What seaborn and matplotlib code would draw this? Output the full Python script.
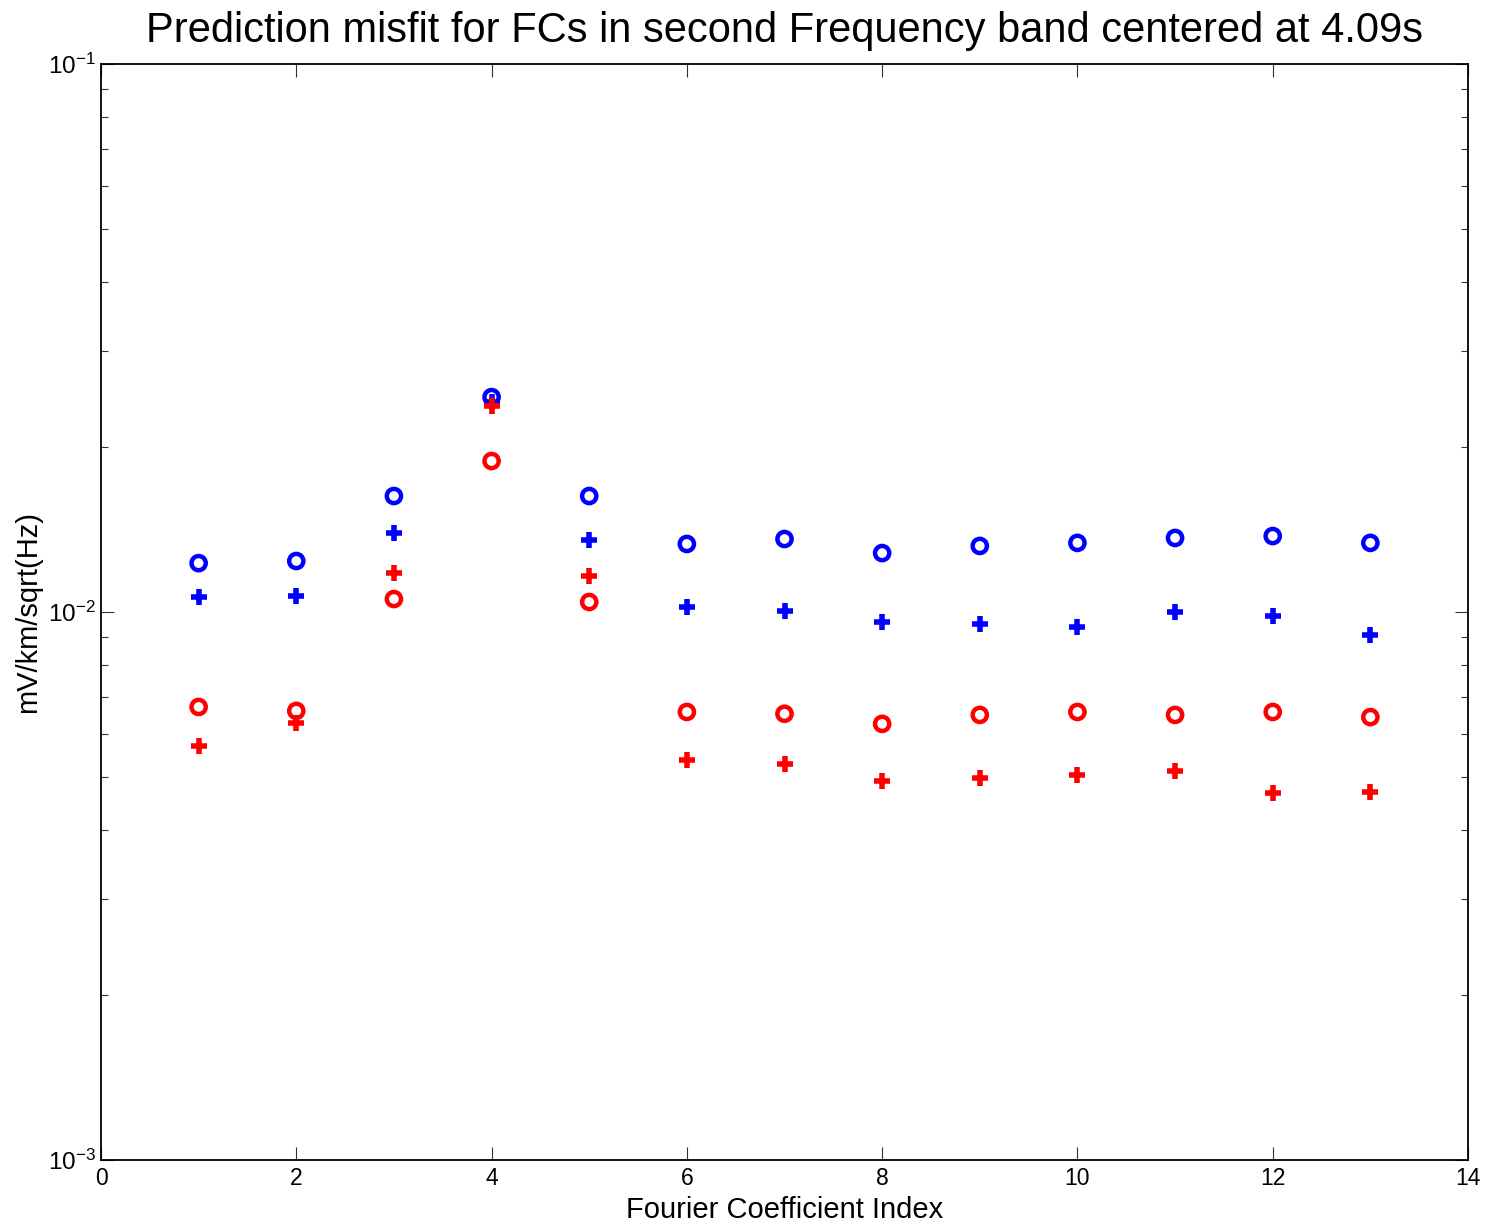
import numpy as np
import pandas as pd
import matplotlib
matplotlib.use("Agg")
import matplotlib.pyplot as plt
import seaborn as sns
from matplotlib.ticker import LogLocator, MultipleLocator, NullFormatter

# ---- data ----
fc_index = [1, 2, 3, 4, 5, 6, 7, 8, 9, 10, 11, 12, 13]
blue_circle = [0.01228, 0.01239, 0.01628, 0.02467, 0.01628, 0.01331, 0.01359,
               0.01281, 0.01320, 0.01337, 0.01365, 0.01376, 0.01337]
blue_plus = [0.01065, 0.01069, 0.01394, 0.02416, 0.01353, 0.01021, 0.01004,
             0.00959, 0.00951, 0.00939, 0.01000, 0.00983, 0.00908]
red_circle = [0.00671, 0.00660, 0.01056, 0.01886, 0.01043, 0.00657, 0.00652,
              0.00625, 0.00649, 0.00657, 0.00649, 0.00657, 0.00643]
red_plus = [0.00569, 0.00627, 0.01178, 0.02376, 0.01163, 0.00537, 0.00528,
            0.00491, 0.00498, 0.00504, 0.00513, 0.00467, 0.00469]

title = "Prediction misfit for FCs in second Frequency band centered at 4.09s"
xlabel = "Fourier Coefficient Index"
ylabel = "mV/km/sqrt(Hz)"

sns.set_theme(style="white")
plt.rcParams['font.family'] = ['Liberation Sans', 'DejaVu Sans']
plt.rcParams['mathtext.fontset'] = 'custom'
plt.rcParams['mathtext.rm'] = 'Liberation Sans'
plt.rcParams['mathtext.it'] = 'Liberation Sans'

fig = plt.figure(figsize=(14.87, 12.28), dpi=100)
ax = fig.add_axes([101/1487, 1 - 1160/1228, (1468-101)/1487, (1160-64)/1228])

df = pd.DataFrame({"idx": fc_index, "bc": blue_circle, "bp": blue_plus,
                   "rc": red_circle, "rp": red_plus})

circ_kw = dict(marker='o', s=105, facecolor='none', linewidth=3.2, zorder=3)
plus_kw = dict(marker='+', s=135, linewidth=4.0, zorder=3)

sns.scatterplot(data=df, x="idx", y="bc", ax=ax, edgecolor='#0000ff', **circ_kw)
sns.scatterplot(data=df, x="idx", y="bp", ax=ax, color='#0000ff', **plus_kw)
sns.scatterplot(data=df, x="idx", y="rc", ax=ax, edgecolor='#ff0000', **circ_kw)
sns.scatterplot(data=df, x="idx", y="rp", ax=ax, color='#ff0000', **plus_kw)

ax.set_yscale('log')
ax.set_xlim(0, 14)
ax.set_ylim(1e-3, 1e-1)
ax.xaxis.set_major_locator(MultipleLocator(2))
ax.yaxis.set_major_locator(LogLocator(base=10, numticks=10))
ax.yaxis.set_minor_locator(LogLocator(base=10, subs=np.arange(2, 10), numticks=20))
ax.yaxis.set_minor_formatter(NullFormatter())

ax.tick_params(which='both', direction='in', top=True, right=True,
               bottom=True, left=True, colors='black')
ax.tick_params(which='major', length=9.5, width=0.8, color='#333333')
ax.tick_params(which='minor', length=5, width=0.8, color='#333333')
ax.tick_params(axis='x', pad=5, labelsize=16.5)
ax.tick_params(axis='y', pad=4, labelsize=17.5)
for sp in ax.spines.values():
    sp.set_color('black')
    sp.set_linewidth(1.3)

ax.set_title(title, fontsize=30, color='black', pad=16)
ax.set_xlabel(xlabel, fontsize=21, color='black', labelpad=4)
ax.set_ylabel(ylabel, fontsize=21, color='black', labelpad=4)

fig.savefig("out.png", dpi=100, facecolor='white')
